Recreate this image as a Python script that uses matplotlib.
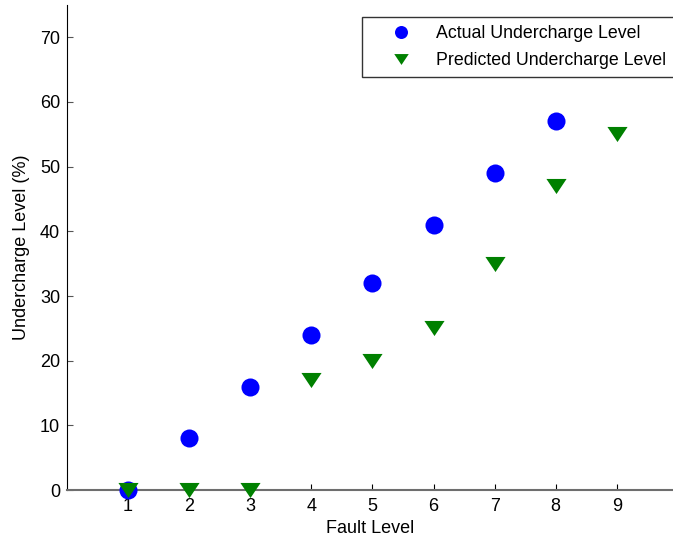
import numpy as np
import matplotlib.pyplot as plt

plt.rcParams['font.family'] = ['Liberation Sans', 'DejaVu Sans']

fault_level = [1, 2, 3, 4, 5, 6, 7, 8, 9]
actual_level = [0, 8, 16, 24, 32, 41, 49, 57]
predicted_level = [0, 0, 0, 17, 20, 25, 35, 47, 55]

# flat downward triangle, wider than tall
tri_down = [(-1, 0.75), (1, 0.75), (0, -0.75), (-1, 0.75)]

fig = plt.figure(figsize=(6.73, 5.43), dpi=100)
ax = fig.add_axes([0.0996, 0.0976, 0.9004, 0.8932])

ax.plot(fault_level[:len(actual_level)], actual_level, 'o', color=(0, 0, 1),
        markersize=13, markeredgewidth=0, label='Actual Undercharge Level', clip_on=False, zorder=3)
ax.plot(fault_level, predicted_level, linestyle='none', marker=tri_down, color=(0, 0.5, 0),
        markersize=14.5, markeredgewidth=0, label='Predicted Undercharge Level', clip_on=False, zorder=4)

ax.set_xlim(0, 9.92)
ax.set_ylim(0, 75)
ax.set_xticks(fault_level)
ax.set_yticks(np.arange(0, 80, 10))

# only left and bottom axes, ticks pointing in
for side in ['top', 'right']:
    ax.spines[side].set_visible(False)
ax.spines['left'].set_color('black')
ax.spines['bottom'].set_color('#6e6e6e')
ax.spines['bottom'].set_linewidth(1.5)
ax.tick_params(axis='both', direction='in', length=4, labelsize=13, colors='black')
ax.tick_params(axis='y', color='#555555', pad=5)
ax.tick_params(axis='x', pad=6)

ax.set_xlabel('Fault Level', fontsize=13, labelpad=3)
ax.set_ylabel('Undercharge Level (%)', fontsize=13, labelpad=7)

leg = ax.legend(loc='upper right', bbox_to_anchor=(1.002, 0.975), fontsize=12.8,
                frameon=True, fancybox=False, edgecolor='black', handletextpad=0.3,
                borderpad=0.45, handlelength=3.4, labelspacing=0.55, borderaxespad=0,
                markerscale=0.72)
leg.get_frame().set_linewidth(1.0)

fig.savefig('out.png', dpi=100)
